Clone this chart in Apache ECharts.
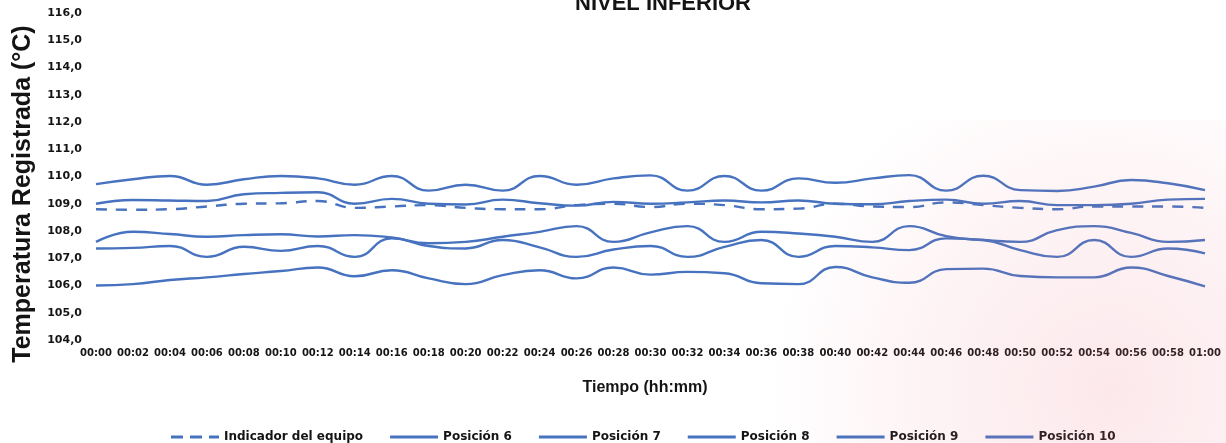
<!DOCTYPE html>
<html>
<head>
<meta charset="utf-8">
<title>Nivel inferior</title>
<script src="https://cdn.jsdelivr.net/npm/echarts@6.0.0/dist/echarts.min.js"></script>
<style>
  html, body { margin: 0; padding: 0; background: #ffffff; }
  #chart { width: 1226px; height: 443px; }
</style>
</head>
<body>
<div id="chart"></div>
<script>
// Sampling times (hh:mm), one reading every two minutes
const times = [
  '00:00', '00:02', '00:04', '00:06', '00:08', '00:10', '00:12', '00:14',
  '00:16', '00:18', '00:20', '00:22', '00:24', '00:26', '00:28', '00:30',
  '00:32', '00:34', '00:36', '00:38', '00:40', '00:42', '00:44', '00:46',
  '00:48', '00:50', '00:52', '00:54', '00:56', '00:58', '01:00'
];

// Temperature readings (°C)
const indicadorEquipo = [
  108.80, 108.78, 108.80, 108.90, 109.00, 109.02, 109.10, 108.85,
  108.90, 108.95, 108.85, 108.80, 108.80, 108.95, 109.00, 108.88,
  109.00, 108.95, 108.80, 108.82, 109.00, 108.90, 108.88, 109.05,
  108.95, 108.85, 108.80, 108.90, 108.90, 108.90, 108.85
];
const posicion6 = [
  109.72, 109.90, 110.02, 109.70, 109.90, 110.02, 109.93, 109.70,
  110.02, 109.48, 109.70, 109.48, 110.02, 109.70, 109.93, 110.04,
  109.48, 110.02, 109.48, 109.93, 109.77, 109.93, 110.05, 109.48,
  110.03, 109.50, 109.47, 109.63, 109.87, 109.75, 109.50
];
const posicion7 = [
  109.00, 109.14, 109.12, 109.10, 109.35, 109.40, 109.42, 109.00,
  109.18, 109.00, 108.97, 109.15, 109.02, 108.93, 109.07, 109.00,
  109.05, 109.12, 109.05, 109.12, 109.00, 108.98, 109.10, 109.15,
  109.00, 109.10, 108.95, 108.95, 109.00, 109.15, 109.18
];
const posicion8 = [
  107.60, 107.97, 107.89, 107.79, 107.85, 107.88, 107.80, 107.85,
  107.76, 107.55, 107.60, 107.79, 107.97, 108.18, 107.60, 107.95,
  108.18, 107.60, 107.97, 107.91, 107.79, 107.60, 108.18, 107.81,
  107.67, 107.60, 108.03, 108.18, 107.93, 107.60, 107.67
];
const posicion9 = [
  107.36, 107.38, 107.45, 107.05, 107.42, 107.27, 107.45, 107.05,
  107.73, 107.45, 107.36, 107.67, 107.40, 107.05, 107.32, 107.45,
  107.05, 107.42, 107.67, 107.05, 107.45, 107.40, 107.30, 107.73,
  107.67, 107.30, 107.05, 107.67, 107.05, 107.36, 107.18
];
const posicion10 = [
  106.00, 106.05, 106.20, 106.30, 106.42, 106.53, 106.66, 106.34,
  106.56, 106.26, 106.05, 106.38, 106.56, 106.26, 106.66, 106.40,
  106.50, 106.45, 106.08, 106.05, 106.68, 106.30, 106.10, 106.60,
  106.62, 106.35, 106.30, 106.30, 106.66, 106.35, 105.97
];

const lineBlue = '#4672bf';
const inkColor = '#141414';

// Legend keys: a short solid bar, and a broken bar for the dashed series
const solidKey = 'path://M0,0H48V3H0Z';
const dashedKey = 'path://M0,0H12V3H0Z M19,0H31V3H19Z M38,0H48V3H38Z';

function lineSeries(name, values, dashed) {
  return {
    name: name,
    type: 'line',
    data: values,
    smooth: 0.5,
    symbol: 'none',
    lineStyle: { color: lineBlue, width: 2.4, type: dashed ? [11, 9] : 'solid' },
    itemStyle: { color: lineBlue }
  };
}

const chart = echarts.init(document.getElementById('chart'), null, { renderer: 'canvas' });

chart.setOption({
  animation: false,
  backgroundColor: '#ffffff',
  title: {
    text: 'NIVEL INFERIOR',
    left: 570,
    top: -12,
    textStyle: { fontFamily: 'Liberation Sans', fontWeight: 'bold', fontSize: 22, color: inkColor }
  },
  grid: { left: 96, right: 21, top: 13, bottom: 103 },
  xAxis: {
    type: 'category',
    data: times,
    boundaryGap: false,
    axisLine: { show: false },
    axisTick: { show: false },
    splitLine: { show: false },
    axisLabel: {
      interval: 0,
      hideOverlap: false,
      margin: 8,
      fontFamily: 'DejaVu Sans',
      fontWeight: 'bold',
      fontSize: 10,
      color: inkColor
    }
  },
  yAxis: {
    type: 'value',
    min: 104,
    max: 116,
    interval: 1,
    axisLine: { show: false },
    axisTick: { show: false },
    splitLine: { show: false },
    axisLabel: {
      margin: 14,
      fontFamily: 'DejaVu Sans',
      fontWeight: 'bold',
      fontSize: 11,
      color: inkColor,
      formatter: function (v) { return v.toFixed(1).replace('.', ','); }
    }
  },
  legend: {
    left: 166,
    top: 426,
    itemWidth: 48,
    itemHeight: 3,
    itemGap: 27,
    textStyle: { fontFamily: 'DejaVu Sans', fontWeight: 'bold', fontSize: 12, color: inkColor },
    data: [
      { name: 'Indicador del equipo', icon: dashedKey },
      { name: 'Posición 6', icon: solidKey },
      { name: 'Posición 7', icon: solidKey },
      { name: 'Posición 8', icon: solidKey },
      { name: 'Posición 9', icon: solidKey },
      { name: 'Posición 10', icon: solidKey }
    ]
  },
  graphic: [
    {
      type: 'text',
      x: 23,
      y: 194,
      rotation: Math.PI / 2,
      silent: true,
      style: {
        text: 'Temperatura Registrada (°C)',
        fontFamily: 'Liberation Sans',
        fontWeight: 'bold',
        fontSize: 25,
        fill: inkColor,
        align: 'center',
        verticalAlign: 'middle'
      }
    },
    {
      type: 'text',
      x: 645,
      y: 388,
      silent: true,
      style: {
        text: 'Tiempo (hh:mm)',
        fontFamily: 'Liberation Sans',
        fontWeight: 'bold',
        fontSize: 16,
        fill: inkColor,
        align: 'center',
        verticalAlign: 'middle'
      }
    },
    {
      // faint pink stain over the lower right corner
      type: 'rect',
      silent: true,
      z: 100,
      shape: { x: 700, y: 120, width: 526, height: 323 },
      style: {
        fill: {
          type: 'radial', global: true, x: 1110, y: 390, r: 340,
          colorStops: [
            { offset: 0, color: 'rgba(238,120,140,0.17)' },
            { offset: 0.6, color: 'rgba(238,120,140,0.08)' },
            { offset: 1, color: 'rgba(238,120,140,0)' }
          ]
        }
      }
    }
  ],
  series: [
    lineSeries('Indicador del equipo', indicadorEquipo, true),
    lineSeries('Posición 6', posicion6, false),
    lineSeries('Posición 7', posicion7, false),
    lineSeries('Posición 8', posicion8, false),
    lineSeries('Posición 9', posicion9, false),
    lineSeries('Posición 10', posicion10, false)
  ]
});
</script>
</body>
</html>
